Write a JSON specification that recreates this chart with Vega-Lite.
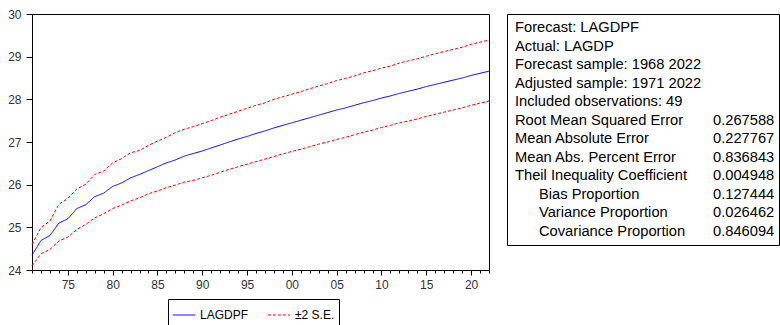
{
  "$schema": "https://vega.github.io/schema/vega-lite/v6.json",
  "padding": {"left": 7, "top": 7, "right": 0, "bottom": 0},
  "background": "white",
  "spacing": 18,
  "bounds": "flush",
  "config": {"font": "Liberation Sans", "view": {"stroke": "black", "strokeWidth": 1}},
  "datasets": {
    "fc": [
      {"year": 1971, "fcst": 24.35, "upper": 24.60, "lower": 24.10},
      {"year": 1972, "fcst": 24.69, "upper": 24.99, "lower": 24.38},
      {"year": 1973, "fcst": 24.81, "upper": 25.15, "lower": 24.48},
      {"year": 1974, "fcst": 25.10, "upper": 25.54, "lower": 24.68},
      {"year": 1975, "fcst": 25.20, "upper": 25.68, "lower": 24.77},
      {"year": 1976, "fcst": 25.44, "upper": 25.90, "lower": 24.95},
      {"year": 1977, "fcst": 25.53, "upper": 26.01, "lower": 25.07},
      {"year": 1978, "fcst": 25.72, "upper": 26.24, "lower": 25.22},
      {"year": 1979, "fcst": 25.80, "upper": 26.32, "lower": 25.32},
      {"year": 1980, "fcst": 25.96, "upper": 26.51, "lower": 25.44},
      {"year": 1981, "fcst": 26.04, "upper": 26.61, "lower": 25.52},
      {"year": 1982, "fcst": 26.16, "upper": 26.75, "lower": 25.62},
      {"year": 1983, "fcst": 26.24, "upper": 26.80, "lower": 25.69},
      {"year": 1984, "fcst": 26.33, "upper": 26.92, "lower": 25.79},
      {"year": 1985, "fcst": 26.42, "upper": 27.02, "lower": 25.85},
      {"year": 1986, "fcst": 26.51, "upper": 27.11, "lower": 25.93},
      {"year": 1987, "fcst": 26.58, "upper": 27.22, "lower": 25.99},
      {"year": 1988, "fcst": 26.67, "upper": 27.30, "lower": 26.06},
      {"year": 1989, "fcst": 26.73, "upper": 27.36, "lower": 26.10},
      {"year": 1990, "fcst": 26.79, "upper": 27.43, "lower": 26.16},
      {"year": 1991, "fcst": 26.86, "upper": 27.50, "lower": 26.22},
      {"year": 1992, "fcst": 26.93, "upper": 27.58, "lower": 26.29},
      {"year": 1993, "fcst": 27.00, "upper": 27.65, "lower": 26.36},
      {"year": 1994, "fcst": 27.07, "upper": 27.72, "lower": 26.42},
      {"year": 1995, "fcst": 27.13, "upper": 27.79, "lower": 26.48},
      {"year": 1996, "fcst": 27.20, "upper": 27.86, "lower": 26.54},
      {"year": 1997, "fcst": 27.26, "upper": 27.92, "lower": 26.60},
      {"year": 1998, "fcst": 27.33, "upper": 28.00, "lower": 26.66},
      {"year": 1999, "fcst": 27.39, "upper": 28.06, "lower": 26.72},
      {"year": 2000, "fcst": 27.45, "upper": 28.12, "lower": 26.78},
      {"year": 2001, "fcst": 27.51, "upper": 28.18, "lower": 26.83},
      {"year": 2002, "fcst": 27.57, "upper": 28.25, "lower": 26.89},
      {"year": 2003, "fcst": 27.63, "upper": 28.31, "lower": 26.95},
      {"year": 2004, "fcst": 27.69, "upper": 28.37, "lower": 27.00},
      {"year": 2005, "fcst": 27.75, "upper": 28.44, "lower": 27.06},
      {"year": 2006, "fcst": 27.80, "upper": 28.49, "lower": 27.11},
      {"year": 2007, "fcst": 27.86, "upper": 28.55, "lower": 27.17},
      {"year": 2008, "fcst": 27.92, "upper": 28.62, "lower": 27.23},
      {"year": 2009, "fcst": 27.97, "upper": 28.67, "lower": 27.28},
      {"year": 2010, "fcst": 28.03, "upper": 28.73, "lower": 27.34},
      {"year": 2011, "fcst": 28.08, "upper": 28.78, "lower": 27.39},
      {"year": 2012, "fcst": 28.14, "upper": 28.85, "lower": 27.45},
      {"year": 2013, "fcst": 28.19, "upper": 28.90, "lower": 27.49},
      {"year": 2014, "fcst": 28.24, "upper": 28.95, "lower": 27.54},
      {"year": 2015, "fcst": 28.30, "upper": 29.01, "lower": 27.60},
      {"year": 2016, "fcst": 28.35, "upper": 29.07, "lower": 27.65},
      {"year": 2017, "fcst": 28.40, "upper": 29.12, "lower": 27.70},
      {"year": 2018, "fcst": 28.45, "upper": 29.17, "lower": 27.75},
      {"year": 2019, "fcst": 28.50, "upper": 29.22, "lower": 27.80},
      {"year": 2020, "fcst": 28.56, "upper": 29.29, "lower": 27.86},
      {"year": 2021, "fcst": 28.61, "upper": 29.34, "lower": 27.91},
      {"year": 2022, "fcst": 28.66, "upper": 29.39, "lower": 27.96}
    ],
    "stats": [
      {"row": 0, "col": "label", "level": 0, "text": "Forecast: LAGDPF"},
      {"row": 1, "col": "label", "level": 0, "text": "Actual: LAGDP"},
      {"row": 2, "col": "label", "level": 0, "text": "Forecast sample: 1968 2022"},
      {"row": 3, "col": "label", "level": 0, "text": "Adjusted sample: 1971 2022"},
      {"row": 4, "col": "label", "level": 0, "text": "Included observations: 49"},
      {"row": 5, "col": "label", "level": 0, "text": "Root Mean Squared Error"},
      {"row": 5, "col": "value", "level": 0, "text": "0.267588"},
      {"row": 6, "col": "label", "level": 0, "text": "Mean Absolute Error"},
      {"row": 6, "col": "value", "level": 0, "text": "0.227767"},
      {"row": 7, "col": "label", "level": 0, "text": "Mean Abs. Percent Error"},
      {"row": 7, "col": "value", "level": 0, "text": "0.836843"},
      {"row": 8, "col": "label", "level": 0, "text": "Theil Inequality Coefficient"},
      {"row": 8, "col": "value", "level": 0, "text": "0.004948"},
      {"row": 9, "col": "label", "level": 1, "text": "Bias Proportion"},
      {"row": 9, "col": "value", "level": 0, "text": "0.127444"},
      {"row": 10, "col": "label", "level": 1, "text": "Variance Proportion"},
      {"row": 10, "col": "value", "level": 0, "text": "0.026462"},
      {"row": 11, "col": "label", "level": 1, "text": "Covariance Proportion"},
      {"row": 11, "col": "value", "level": 0, "text": "0.846094"}
    ]
  },
  "hconcat": [
    {
      "width": 457,
      "height": 256,
      "data": {"name": "fc"},
      "encoding": {
        "x": {
          "field": "year",
          "type": "quantitative",
          "scale": {"domain": [1971, 2022], "nice": false, "zero": false},
          "axis": {
            "values": [1971,1972,1973,1974,1975,1976,1977,1978,1979,1980,1981,1982,1983,1984,1985,1986,1987,1988,1989,1990,1991,1992,1993,1994,1995,1996,1997,1998,1999,2000,2001,2002,2003,2004,2005,2006,2007,2008,2009,2010,2011,2012,2013,2014,2015,2016,2017,2018,2019,2020,2021,2022],
            "labelExpr": "datum.value % 5 === 0 ? substring(toString(datum.value), 2) : ''",
            "tickSize": {"condition": {"test": "datum.value % 5 === 0", "value": 5}, "value": 3},
            "grid": false,
            "title": null,
            "labelFontSize": 12,
            "labelColor": "#333333",
            "tickColor": "black",
            "domainColor": "black",
            "labelPadding": 4,
            "labelFlush": false,
            "labelOverlap": false,
            "labelBound": false
          }
        }
      },
      "layer": [
        {
          "mark": {"type": "line", "strokeWidth": 1},
          "encoding": {
            "y": {
              "field": "fcst",
              "type": "quantitative",
              "scale": {"domain": [24, 30], "nice": false, "zero": false},
              "axis": {
                "values": [24, 25, 26, 27, 28, 29, 30],
                "format": "d",
                "title": null,
                "grid": false,
                "tickSize": 6,
                "labelPadding": 5,
                "labelFontSize": 12,
                "labelColor": "#333333",
                "tickColor": "black",
                "domainColor": "black"
              }
            },
            "color": {
              "datum": "LAGDPF",
              "type": "nominal",
              "scale": {"domain": ["LAGDPF", "±2 S.E."], "range": ["#0000ff", "#ff0000"]},
              "legend": {
                "orient": "none",
                "legendX": 136,
                "legendY": 285,
                "direction": "horizontal",
                "title": null,
                "symbolType": "stroke",
                "symbolSize": 500,
                "symbolStrokeWidth": 1,
                "labelFontSize": 12,
                "labelColor": "black",
                "strokeColor": "black",
                "fillColor": "white",
                "padding": 4,
                "columnPadding": 16
              }
            },
            "strokeDash": {
              "datum": "LAGDPF",
              "type": "nominal",
              "scale": {"domain": ["LAGDPF", "±2 S.E."], "range": [[1, 0], [3, 2]]},
              "legend": {
                "orient": "none",
                "legendX": 136,
                "legendY": 285,
                "direction": "horizontal",
                "title": null,
                "symbolType": "stroke",
                "symbolSize": 500,
                "symbolStrokeWidth": 1,
                "labelFontSize": 12,
                "labelColor": "black",
                "strokeColor": "black",
                "fillColor": "white",
                "padding": 4,
                "columnPadding": 16
              }
            }
          }
        },
        {
          "transform": [{"fold": ["upper", "lower"], "as": ["band", "val"]}],
          "mark": {"type": "line", "strokeWidth": 1},
          "encoding": {
            "y": {"field": "val", "type": "quantitative"},
            "detail": {"field": "band", "type": "nominal"},
            "color": {"datum": "±2 S.E.", "type": "nominal"},
            "strokeDash": {"datum": "±2 S.E.", "type": "nominal"}
          }
        }
      ]
    },
    {
      "width": 272,
      "height": 231,
      "data": {"name": "stats"},
      "encoding": {
        "x": {"field": "col", "type": "nominal", "scale": {"type": "point", "domain": ["label", "value"], "range": [8, 206], "padding": 0}, "axis": null},
        "y": {"field": "row", "type": "ordinal", "scale": {"type": "point", "range": [14, 218], "padding": 0}, "axis": null},
        "text": {"field": "text", "type": "nominal"}
      },
      "layer": [
        {
          "transform": [{"filter": "datum.level === 0"}],
          "mark": {"type": "text", "align": "left", "baseline": "middle", "fontSize": 14.7, "font": "Liberation Sans", "color": "black"}
        },
        {
          "transform": [{"filter": "datum.level === 1"}],
          "mark": {"type": "text", "align": "left", "baseline": "middle", "dx": 24, "fontSize": 14.7, "font": "Liberation Sans", "color": "black"}
        }
      ]
    }
  ]
}
